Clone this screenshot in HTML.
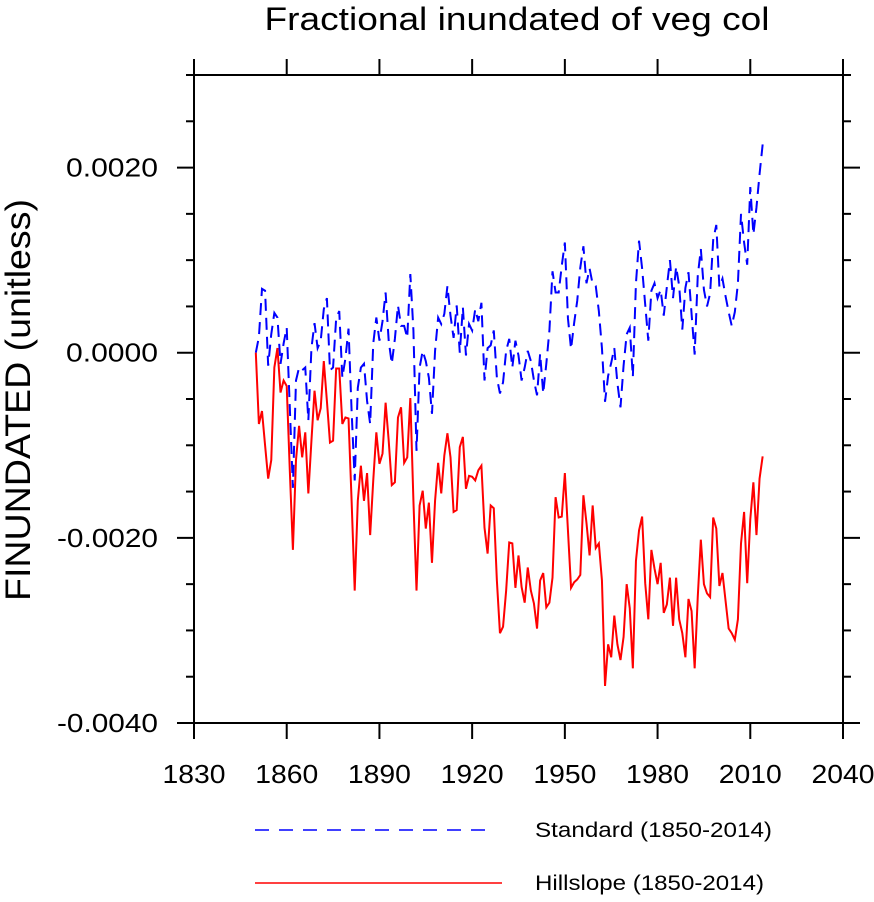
<!DOCTYPE html>
<html><head><meta charset="utf-8"><style>
html,body{margin:0;padding:0;background:#fff;}
svg text{font-family:"Liberation Sans",sans-serif;fill:#000;}
</style></head><body>
<svg id="chart" width="874" height="897" viewBox="0 0 874 897" xmlns="http://www.w3.org/2000/svg">
<text x="517" y="30" font-size="32" text-anchor="middle" textLength="505" lengthAdjust="spacingAndGlyphs">Fractional inundated of veg col</text>
<text x="0" y="0" font-size="35" text-anchor="middle" textLength="402" lengthAdjust="spacingAndGlyphs" transform="translate(30,400) rotate(-90)">FINUNDATED  (unitless)</text>
<g id="plot"></g>
<g>
<line x1="255" y1="830" x2="495" y2="830" stroke="#0000ff" stroke-width="1.5" stroke-dasharray="14 10"/>
<text x="535" y="837" font-size="21" textLength="237" lengthAdjust="spacingAndGlyphs">Standard (1850-2014)</text>
<line x1="255" y1="883" x2="502" y2="883" stroke="#ff0000" stroke-width="1.5"/>
<text x="535" y="890" font-size="21" textLength="229" lengthAdjust="spacingAndGlyphs">Hillslope (1850-2014)</text>
</g>
</svg>
<script>
const startYear = 1850;
// values in units of 1e-4
const standardVals = [0,1.7,6.9,6.7,-1.4,2.0,4.3,3.8,-1.2,1.0,2.7,-5.9,-14.6,-3.0,-1.6,-1.9,-1.6,-7.3,0.5,3.2,0.5,1.3,4.7,5.9,-1.9,-1.6,3.7,4.5,-2.7,-0.6,2.6,-6.3,-13.8,-3.8,-1.6,-1.2,-5.2,-7.7,1.0,3.8,1.3,3.4,6.5,1.3,-1.2,1.5,5.1,2.9,2.9,1.6,8.5,2.4,-10.6,-1.6,0.2,-0.9,-2.7,-6.6,0.2,3.8,3.1,4.2,7.2,4.0,1.6,5.1,0,4.9,-0.3,3.1,2.4,4.7,3.4,5.4,-3.0,0.5,0.8,2.4,-2.7,-4.4,-3.2,0.2,1.5,-1.6,1.3,-0.3,-3.0,-1.6,0.2,-0.9,-3.0,-4.6,-0.1,-4.4,-1.2,2.4,8.8,6.5,6.5,9.4,11.9,3.7,0.4,3.2,5.6,9.2,11.5,7.5,9.1,7.4,7.2,4.5,0.5,-5.3,-2.5,-1.1,0.5,-3.3,-5.9,-1.4,2.0,2.7,-2.6,7.5,12.1,9.1,5.2,1.3,6.7,7.5,5.9,6.8,4.0,7.1,10.0,5.9,9.3,7.2,2.5,7.0,8.7,4.2,-0.2,8.3,11.2,6.8,5.0,6.4,12.2,13.8,7.1,8.0,6.1,4.4,2.9,4.4,7.5,15.0,11.9,9.5,17.9,12.8,15.7,19.3,22.5];
const hillslopeVals = [0,-7.7,-6.3,-10.0,-13.6,-11.6,-1.6,0.5,-4.3,-3.0,-3.6,-12.7,-21.3,-11.6,-7.9,-11.3,-8.6,-15.2,-9.5,-4.1,-7.3,-6.0,-0.9,-5.2,-9.7,-9.5,-1.7,-1.7,-7.7,-7.0,-7.1,-16.0,-25.7,-16.0,-12.2,-16.0,-13.0,-19.7,-13.8,-8.6,-12.0,-10.9,-5.4,-9.5,-14.3,-14.0,-7.0,-5.9,-11.9,-11.3,-4.9,-16.0,-25.7,-16.5,-14.9,-19.0,-16.2,-22.7,-16.0,-11.9,-15.2,-11.1,-8.7,-11.3,-17.2,-17.0,-10.2,-9.1,-14.7,-13.3,-13.4,-13.8,-12.7,-12.2,-18.9,-21.7,-16.5,-16.8,-24.6,-30.3,-29.6,-25.7,-20.5,-20.6,-25.4,-21.9,-25.3,-27.0,-23.2,-25.7,-27.1,-29.8,-24.6,-23.8,-27.5,-27.0,-24.3,-15.6,-17.8,-17.7,-13.0,-19.2,-25.4,-24.8,-24.5,-24.0,-15.4,-18.4,-21.9,-16.5,-21.1,-20.6,-24.6,-36.0,-31.5,-32.9,-28.4,-31.5,-33.2,-30.7,-25.0,-27.6,-34.1,-22.5,-19.2,-17.7,-24.9,-28.8,-21.3,-23.3,-25.0,-22.7,-28.1,-27.2,-24.3,-29.5,-24.3,-28.8,-30.3,-32.9,-26.6,-27.9,-34.1,-26.4,-20.2,-25.0,-26.0,-26.4,-17.8,-19.0,-25.2,-23.8,-26.8,-29.8,-30.3,-31.0,-28.8,-20.6,-17.2,-24.9,-18.0,-14.0,-19.7,-13.6,-11.2];
const xTicks = [1830,1860,1890,1920,1950,1980,2010,2040];
const yTicks = [0.002,0,-0.002,-0.004];
const yTickLabels = ["0.0020","0.0000","-0.0020","-0.0040"];

const L=194,R=843,T=75,B=723,xMin=1830,xMax=2040,yMin=-0.004,yMax=0.003;
function xs(v){return L+(v-xMin)/(xMax-xMin)*(R-L);}
function ys(v){return B-(v-yMin)/(yMax-yMin)*(B-T);}
const NS='http://www.w3.org/2000/svg';
const g=document.getElementById('plot');
function mk(tag,attrs){const e=document.createElementNS(NS,tag);for(const k in attrs)e.setAttribute(k,attrs[k]);g.appendChild(e);return e;}

function series(vals,color,dash,name){
  const pts=vals.map((v,i)=>xs(startYear+i).toFixed(2)+','+ys(v*1e-4).toFixed(2)).join(' ');
  const p=mk('polyline',{points:pts,fill:'none',stroke:color,'stroke-width':'2'});
  if(dash)p.setAttribute('stroke-dasharray',dash);
  
  
}
series(standardVals,'#0000ff','12 7','standard-series-line');
series(hillslopeVals,'#ff0000',null,'hillslope-series-line');

const frame=mk('rect',{x:L,y:T,width:R-L,height:B-T,fill:'none',stroke:'#000','stroke-width':'2'});



xTicks.forEach(yr=>{
  const x=xs(yr), len=16;
  const t1=mk('line',{x1:x,y1:B,x2:x,y2:B+len,stroke:'#000','stroke-width':'2'});
  
  
  const t2=mk('line',{x1:x,y1:T,x2:x,y2:T-len,stroke:'#000','stroke-width':'2'});
  
  
  const t=mk('text',{x:x,y:783,'font-size':'26','text-anchor':'middle',textLength:'63',lengthAdjust:'spacingAndGlyphs'});
  t.textContent=yr;
  
  
});
for(let k=-8;k<=6;k++){
  const v=k*0.0005, major=k%4===0, len=major?17:8, y=ys(v);
  const t1=mk('line',{x1:L,y1:y,x2:L-len,y2:y,stroke:'#000','stroke-width':'2'});
  
  
  const t2=mk('line',{x1:R,y1:y,x2:R+len,y2:y,stroke:'#000','stroke-width':'2'});
  
  
}
yTicks.forEach((v,i)=>{
  const lbl=yTickLabels[i];
  const t=mk('text',{x:158,y:ys(v)+9,'font-size':'26','text-anchor':'end',textLength:(lbl.startsWith('-')?'101':'92'),lengthAdjust:'spacingAndGlyphs'});
  t.textContent=lbl;
  
  
});
</script>
</body></html>
